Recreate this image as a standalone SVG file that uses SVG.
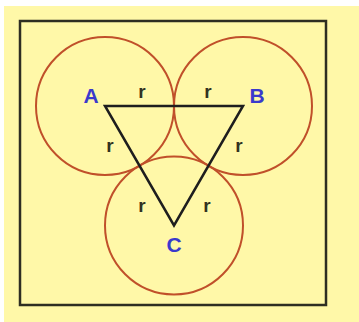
<svg xmlns="http://www.w3.org/2000/svg" width="359" height="322" viewBox="0 0 359 322">
<style>
.bg{fill:#fff8a8}
.frame{fill:none;stroke:#2e2e22;stroke-width:2.5}
.circ{fill:none;stroke:#c0502a;stroke-width:2}
.tri{fill:none;stroke:#1e1e1e;stroke-width:2.5;stroke-linejoin:miter}
.pt{font-family:"Liberation Sans",Arial,sans-serif;font-weight:bold;font-size:21px;fill:#3a3acc;text-anchor:middle}
.r{font-family:"Liberation Sans",Arial,sans-serif;font-weight:bold;font-size:19px;fill:#333322;text-anchor:middle}
</style>
<rect x="0" y="0" width="359" height="322" fill="#ffffff"/>
<rect class="bg" x="4" y="6" width="355" height="316"/>
<rect class="frame" x="20" y="21" width="306" height="284"/>
<g id="circleA"><circle class="circ" cx="105" cy="106" r="69"/></g>
<g id="circleB"><circle class="circ" cx="243" cy="106" r="69"/></g>
<g id="circleC"><circle class="circ" cx="174" cy="225.5" r="69"/></g>
<g id="triangle"><path class="tri" d="M105 106 L243 106 L174 225.5 Z"/></g>
<g id="labels">
<text class="pt" x="91" y="103">A</text>
<text class="pt" x="257" y="103">B</text>
<text class="pt" x="174" y="252">C</text>
<text class="r" x="142" y="98">r</text>
<text class="r" x="208" y="98">r</text>
<text class="r" x="110" y="152">r</text>
<text class="r" x="239" y="152">r</text>
<text class="r" x="142" y="212">r</text>
<text class="r" x="207" y="212">r</text>
</g>
</svg>
